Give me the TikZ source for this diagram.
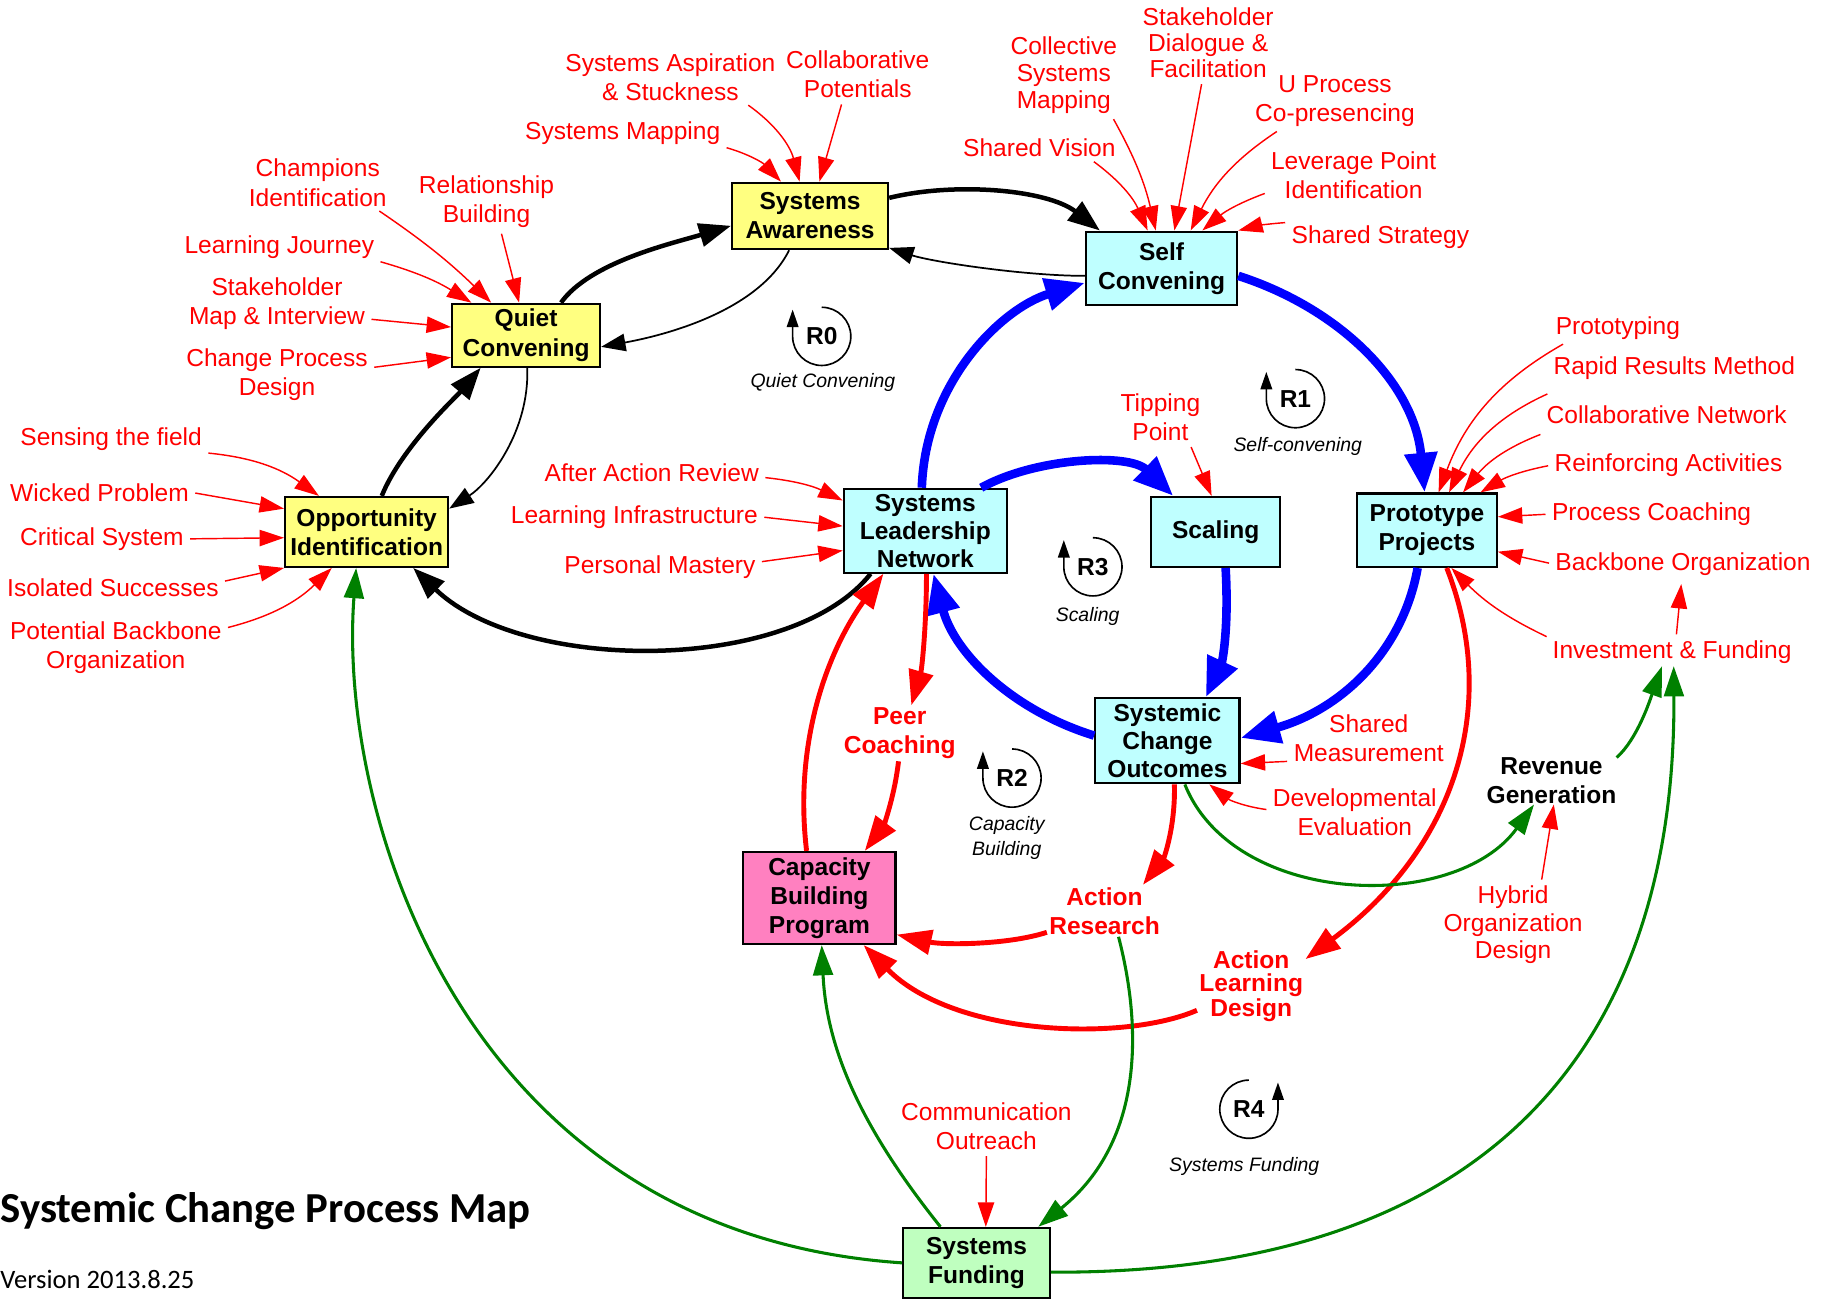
\documentclass[tikz,border=0pt]{standalone}
\usepackage{fontspec}
\setmainfont{Liberation Sans}
\newfontfamily\calibri{Carlito}
\usetikzlibrary{arrows.meta}

\definecolor{boxyellow}{RGB}{255,255,128}
\definecolor{boxcyan}{RGB}{191,255,255}
\definecolor{boxpink}{RGB}{255,128,192}
\definecolor{boxgreen}{RGB}{191,255,191}
\definecolor{dkgreen}{RGB}{0,128,0}

\begin{document}
\begin{tikzpicture}[x=0.02cm,y=-0.02cm,
    box/.style={draw=black,line width=1.1pt,align=center,inner sep=0pt,
      font=\fontsize{12}{14.2}\selectfont\bfseries},
    lbl/.style={text=red,align=center,inner sep=1pt,font=\fontsize{12}{14.2}\selectfont},
    blbl/.style={lbl,font=\fontsize{12}{14.2}\selectfont\bfseries},
    loopnum/.style={font=\fontsize{12}{14.2}\selectfont\bfseries,inner sep=0pt},
    loopcap/.style={font=\fontsize{9.5}{12}\selectfont\itshape,align=center,inner sep=0pt},
    feed/.style={red,line width=0.7pt,shorten <=2pt,-{Triangle[length=0.42cm,width=0.28cm]}},
    bthick/.style={line width=2.2pt,-{Triangle[length=0.55cm,width=0.4cm]}},
    bthin/.style={line width=0.85pt,-{Triangle[length=0.42cm,width=0.3cm]}},
    bluearr/.style={blue,line width=4.2pt,-{Triangle[length=0.68cm,width=0.54cm]}},
    redarr/.style={red,line width=2.4pt,-{Triangle[length=0.6cm,width=0.42cm]}},
    greenarr/.style={dkgreen,line width=1.5pt,-{Triangle[length=0.52cm,width=0.34cm]}},
    loopline/.style={line width=0.8pt,-{Triangle[length=0.3cm,width=0.2cm]}}]
    \useasboundingbox (0,0) rectangle (1568,1117);
    % loop markers: clockwise and counter-clockwise
    \def\loopcw#1#2#3{
    \draw[loopline] (#1,#2) ++(0,-25) arc[start angle=-90,end angle=180,radius=25] -- ++(0,-23);
    \node[loopnum] (#3) at (#1,#2) {#3};
    }
    \def\loopccw#1#2#3{
    \draw[loopline] (#1,#2) ++(0,-25) arc[start angle=-90,end angle=-360,radius=25] -- ++(0,-23);
    \node[loopnum] (#3) at (#1,#2) {#3};
    }

    % boxes
    \node[box,fill=boxyellow,minimum width=2.68cm,minimum height=1.14cm] (sa) at (696,185.5) {Systems\\Awareness};
    \node[box,fill=boxyellow,minimum width=2.54cm,minimum height=1.08cm] (qc) at (452,288) {Quiet\\Convening};
    \node[box,fill=boxyellow,minimum width=2.8cm,minimum height=1.2cm] (oi) at (315,457) {Opportunity\\Identification};
    \node[box,fill=boxcyan,minimum width=2.6cm,minimum height=1.26cm] (sc) at (998,230.5) {Self\\Convening};
    \node[box,fill=boxcyan,minimum width=2.8cm,minimum height=1.44cm,
      font=\fontsize{12}{13.6}\selectfont\bfseries] (sln) at (795,456) {Systems\\Leadership\\Network};
    \node[box,fill=boxcyan,minimum width=2.22cm,minimum height=1.2cm] (scal) at (1044.5,457) {Scaling};
    \node[box,fill=boxcyan,minimum width=2.4cm,minimum height=1.26cm] (pp) at (1226,455.5) {Prototype\\Projects};
    \node[box,fill=boxcyan,minimum width=2.48cm,minimum height=1.46cm,
      font=\fontsize{12}{13.6}\selectfont\bfseries] (sco) at (1003,636.5) {Systemic\\Change\\Outcomes};
    \node[box,fill=boxpink,minimum width=2.62cm,minimum height=1.58cm] (cbp) at (704,771.5) {Capacity\\Building\\Program};
    \node[box,fill=boxgreen,minimum width=2.52cm,minimum height=1.2cm] (sf) at (839,1085) {Systems\\Funding};

    % red labels
    \node[lbl] (asp) at (576,66) {Systems Aspiration\\\& Stuckness};
    \node[lbl] (collpot) at (737,64) {Collaborative\\Potentials};
    \node[lbl] (sysmap) at (535,114) {Systems Mapping};
    \node[lbl] (champ) at (273,157) {Champions\\Identification};
    \node[lbl] (relb) at (418,173) {Relationship\\Building};
    \node[lbl] (ljour) at (240,212) {Learning Journey};
    \node[lbl] (stakemap) at (238,260.5) {Stakeholder\\Map \& Interview};
    \node[lbl] (cpd) at (238,322) {Change Process\\Design};
    \node[lbl] (sense) at (95.5,377) {Sensing the field};
    \node[lbl] (wicked) at (85.5,423) {Wicked Problem};
    \node[lbl] (crit) at (87.5,463) {Critical System};
    \node[lbl] (isol) at (97,505) {Isolated Successes};
    \node[lbl] (potb) at (99.5,556.5) {Potential Backbone\\Organization};
    \node[lbl] (aar) at (560,406.5) {After Action Review};
    \node[lbl] (linf) at (545,444) {Learning Infrastructure};
    \node[lbl] (pmast) at (567,487.5) {Personal Mastery};
    \node[lbl,font=\fontsize{12}{13}\selectfont] (csm) at (914,64.5) {Collective\\Systems\\Mapping};
    \node[lbl,font=\fontsize{12}{12.8}\selectfont] (sdf) at (1038,36.5) {Stakeholder\\Dialogue \&\\Facilitation};
    \node[lbl] (uproc) at (1147,87) {U Process\\Co-presencing};
    \node[lbl] (svis) at (893,127) {Shared Vision};
    \node[lbl] (lev) at (1163,150.5) {Leverage Point\\Identification};
    \node[lbl] (sstrat) at (1186,204) {Shared Strategy};
    \node[lbl] (proto) at (1390,282) {Prototyping};
    \node[lbl] (rapid) at (1438.5,316.6) {Rapid Results Method};
    \node[lbl] (colnet) at (1432,356.6) {Collaborative Network};
    \node[lbl] (reinf) at (1433.5,399.5) {Reinforcing Activities};
    \node[lbl] (pcoach) at (1419,441.7) {Process Coaching};
    \node[lbl] (bbone) at (1446,484.6) {Backbone Organization};
    \node[lbl] (invest) at (1436.6,560.4) {Investment \& Funding};
    \node[lbl] (tipp) at (997,358.5) {Tipping\\Point};
    \node[lbl] (smeas) at (1176,634) {Shared\\Measurement};
    \node[lbl] (deveval) at (1164,697.5) {Developmental\\Evaluation};
    \node[lbl,font=\fontsize{12}{13.3}\selectfont] (hybrid) at (1300,794.5) {Hybrid\\Organization\\Design};
    \node[lbl] (comm) at (847.5,967.5) {Communication\\Outreach};
    \node[blbl] (peer) at (773,630) {Peer\\Coaching};
    \node[blbl] (ar) at (949,782.5) {Action\\Research};
    \node[blbl,font=\fontsize{12}{11}\selectfont\bfseries] (ald) at (1075,847.5) {Action\\Learning\\Design};
    \node[loopnum,align=center] (rev) at (1333,671) {Revenue\\Generation};

    % loops
    \loopcw{706}{289}{R0}
    \loopcw{1113}{342.5}{R1}
    \loopcw{939}{487}{R3}
    \loopcw{869.5}{668.5}{R2}
    \loopccw{1073}{953}{R4}
    \node[loopcap] (capr0) at (707,329) {Quiet Convening};
    \node[loopcap] (capr1) at (1115,384) {Self-convening};
    \node[loopcap] (capr3) at (934.5,530) {Scaling};
    \node[loopcap] (capr2) at (865,720) {Capacity\\Building};
    \node[loopcap] (capr4) at (1069,1002) {Systems Funding};

    % title
    \node[anchor=base west,inner sep=0pt,font=\calibri\fontsize{20.9}{24}\selectfont\bfseries] (title) at (0,1050) {Systemic Change Process Map};
    \node[anchor=base west,inner sep=0pt,font=\calibri\fontsize{13}{15}\selectfont] (version) at (0,1107) {Version 2013.8.25};

    % black links
    \draw[bthick] (482,0 |- qc.north) .. controls +(25,-35) and +(-50,15) .. (sa.west |- 0,194);
    \draw[bthick] (sa.east |- 0,170) .. controls +(57,-14) and +(-45,-35) .. (945,0 |- sc.north);
    \draw[bthin] (sc.west |- 0,237) .. controls +(-52,0) and +(37,12) .. (sa.east |- 0,213);
    \draw[bthin] (678,0 |- sa.south) .. controls +(-28,56) and +(44,-8) .. (qc.east |- 0,298);
    \draw[bthick] (328,0 |- oi.north) .. controls +(17,-42) and +(-21,25) .. (413,0 |- qc.south);
    \draw[bthin] (453,0 |- qc.south) .. controls +(2,55) and +(34,-22) .. (oi.east |- 0,437);
    \draw[bthick] (748,0 |- sln.south) .. controls +(-68,86) and +(95,91) .. (355,0 |- oi.south);

    % blue links
    \draw[bluearr] (792,0 |- sln.north) .. controls +(3,-90) and +(-72,22) .. (sc.west |- 0,243);
    \draw[bluearr] (sc.east |- 0,237) .. controls +(87,28) and +(-9,-94) .. (1224,0 |- pp.north);
    \draw[bluearr] (1218,0 |- pp.south) .. controls +(-13,73) and +(85,-24) .. (sco.east |- 0,634);
    \draw[bluearr] (sco.west |- 0,632) .. controls +(-71,-22) and +(18,68) .. (802,0 |- sln.south);
    \draw[bluearr] (843,0 |- sln.north) .. controls +(47,-26) and +(-38,-37) .. (1008,0 |- scal.north);
    \draw[bluearr] (1053,0 |- scal.south) .. controls +(3,53) and +(14,-30) .. (1036,0 |- sco.north);

    % red links
    \draw[redarr] (796,0 |- sln.south) .. controls +(0,45) and +(9,-31) .. (783,0 |- peer.north);
    \draw[redarr] (772,0 |- peer.south) .. controls +(-4,34) and +(15,-20) .. (743,0 |- cbp.north);
    \draw[redarr] (693,0 |- cbp.north) .. controls +(-11,-92) and +(-49,68) .. (759,0 |- sln.south);
    \draw[redarr] (1009,0 |- sco.south) .. controls +(1,36) and +(18,-23) .. (982,0 |- ar.north);
    \draw[redarr] (ar.west |- 0,801) .. controls +(-34,11) and +(40,9) .. (cbp.east |- 0,803);
    \draw[redarr] (ald.west |- 0,868) .. controls +(-62,27) and +(78,79) .. (742,0 |- cbp.south);
    \draw[redarr] (1243,0 |- pp.south) .. controls +(47,120) and +(127,-94) .. (ald.east |- 0,824);

    % green links
    \draw[greenarr] (sf.west |- 0,1085) .. controls +(-376,-25) and +(-16,213) .. (306,0 |- oi.south);
    \draw[greenarr] (808,0 |- sf.north) .. controls +(-68,-85) and +(4,89) .. (706,0 |- cbp.south);
    \draw[greenarr] (961,0 |- ar.south) .. controls +(19,73) and +(93,-75) .. (892,0 |- sf.north);
    \draw[greenarr] (sf.east |- 0,1093) .. controls +(398,2) and +(2,304) .. (1438,0 |- invest.south);
    \draw[greenarr] (1018,0 |- sco.south) .. controls +(42,105) and +(-68,94) .. (1318,0 |- rev.south);
    \draw[greenarr] (rev.north east) .. controls +(18,-16) and +(-10,28) .. (1428,0 |- invest.south);

    % feeding labels
    \draw[feed] (640,0 |- asp.south) to[bend left=20] (687,0 |- sa.north);
    \draw[feed] (724,0 |- collpot.south) -- (704,0 |- sa.north);
    \draw[feed] (sysmap.south east) to[bend left=15] (671,0 |- sa.north);
    \draw[feed] (323,0 |- champ.south) to[bend left=5] (422,0 |- qc.north);
    \draw[feed] (430,0 |- relb.south) -- (446,0 |- qc.north);
    \draw[feed] (ljour.south east) to[bend left=8] (405,0 |- qc.north);
    \draw[feed] (stakemap.east |- 0,274) -- (qc.west |- 0,281);
    \draw[feed] (cpd.east |- 0,316) -- (qc.west |- 0,307);
    \draw[feed] (sense.south east) to[bend left=15] (274,0 |- oi.north);
    \draw[feed] (wicked.east) -- (oi.west |- 0,437);
    \draw[feed] (crit.east) -- (oi.west |- 0,462);
    \draw[feed] (isol.east |- 0,500) -- (oi.south west);
    \draw[feed] (potb.east |- 0,540) to[bend right=15] (285,0 |- oi.south);
    \draw[feed] (aar.east |- 0,410) to[bend left=10] (sln.west |- 0,430);
    \draw[feed] (linf.east) -- (sln.west |- 0,452);
    \draw[feed] (pmast.east |- 0,483) -- (sln.west |- 0,473);
    \draw[feed] (937,0 |- svis.south) to[bend left=15] (986,0 |- sc.north);
    \draw[feed] (955,0 |- csm.south) to[bend left=8] (993,0 |- sc.north);
    \draw[feed] (1033,0 |- sdf.south) -- (1009,0 |- sc.north);
    \draw[feed] (1100,0 |- uproc.south) to[bend right=15] (1023,0 |- sc.north);
    \draw[feed] (lev.west |- 0,165) to[bend right=10] (1033,0 |- sc.north);
    \draw[feed] (sstrat.west |- 0,191) to[bend right=5] (sc.north east);
    \draw[feed] (1346,0 |- proto.south) to[bend right=20] (1236,0 |- pp.north);
    \draw[feed] (rapid.west |- 0,337) to[bend right=20] (1245,0 |- pp.north);
    \draw[feed] (colnet.west |- 0,372) to[bend right=15] (1257,0 |- pp.north);
    \draw[feed] (reinf.west) to[bend right=10] (1272,0 |- pp.north);
    \draw[feed] (pcoach.west) -- (pp.east |- 0,444);
    \draw[feed] (bbone.west) -- (pp.east |- 0,474);
    \draw[feed] (invest.north west) to[bend left=10] (1247,0 |- pp.south);
    \draw[feed,shorten >=3pt] (1440,0 |- invest.north) -- (1445,0 |- bbone.south);
    \draw[feed] (1022,0 |- tipp.south) -- (1041,0 |- scal.north);
    \draw[feed] (smeas.west |- 0,654) -- (sco.east |- 0,656);
    \draw[feed] (deveval.west |- 0,696) to[bend left=15] (1039,0 |- sco.south);
    \draw[feed] (1324,0 |- hybrid.north) -- (1335,0 |- rev.south);
    \draw[feed] (comm.south) -- (847,0 |- sf.north);
\end{tikzpicture}
\end{document}
